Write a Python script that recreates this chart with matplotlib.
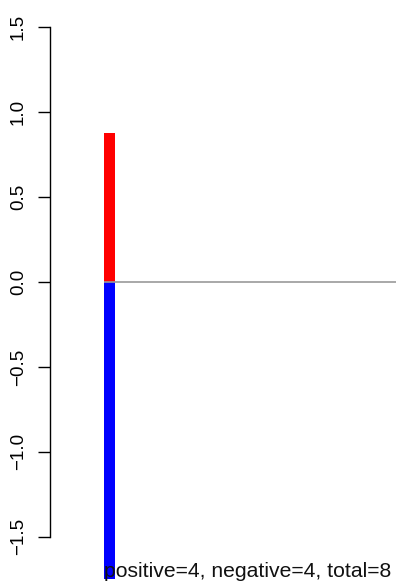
import matplotlib

matplotlib.use("Agg")
import matplotlib.pyplot as plt

plt.rcParams["font.family"] = ["Liberation Sans", "DejaVu Sans"]

# net effect split into positive / negative stacks
positive_total = 0.88
negative_total = -1.75
n_positive = 4
n_negative = 4
y_ticks = [-1.5, -1.0, -0.5, 0.0, 0.5, 1.0, 1.5]
y_tick_labels = ["\u22121.5", "\u22121.0", "\u22120.5", "0.0", "0.5", "1.0", "1.5"]

W, H = 396, 587
fig = plt.figure(figsize=(W / 100, H / 100), dpi=100)
ax = fig.add_axes([50 / W, 40 / H, 346 / W, 530 / H])

bar_x = 0.172
bar_w = 0.032
ax.bar([bar_x], [positive_total], width=bar_w, color="#ff0000", clip_on=False)
ax.bar([bar_x], [negative_total], width=bar_w, color="#0000ff", clip_on=False)
ax.hlines(0, bar_x - bar_w / 2, 1.0, color="#999999", linewidth=1.2)

ax.set_xlim(0, 1)
ax.set_ylim(-1.56, 1.56)
ax.set_xticks([])
ax.set_yticks(y_ticks)
ax.set_yticklabels(y_tick_labels, rotation=90, va="center", fontsize=13.5)
ax.tick_params(axis="y", length=8.5, width=1, pad=8)
for side in ["top", "right", "bottom"]:
    ax.spines[side].set_visible(False)
ax.spines["left"].set_bounds(-1.5, 1.5)
ax.spines["left"].set_linewidth(1)

fig.text(104 / W, 10 / H,
         f"positive={n_positive}, negative={n_negative}, total={n_positive + n_negative}",
         fontsize=15.2, ha="left", va="baseline", color="#111111")

fig.savefig("out.png", dpi=100)
